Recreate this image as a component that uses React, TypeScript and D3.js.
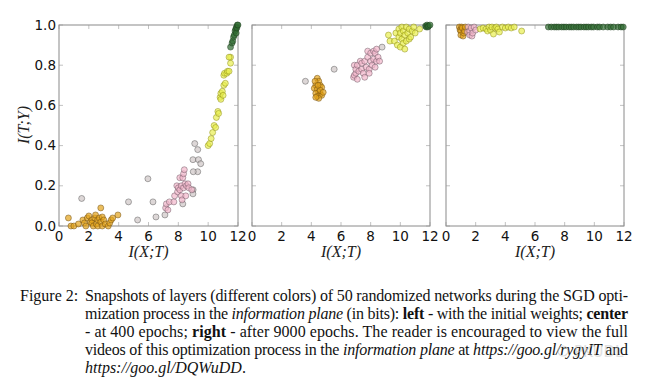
import * as d3 from "d3";

type P = [number, number];

// layer colours (input side -> output side)
const layerColors = ["#e3a21a", "#cfc6c6", "#f2b6cb", "#e8ee50", "#2f6b30"];
const layerStroke = ["#6b4a10", "#555", "#6a5560", "#8a8a10", "#1e3d1e"];

// left panel: initial weights
const leftOrange: P[] = [
  [0.63, 0.04], [0.8, 0.0], [1.0, 0.0], [1.3, 0.01], [1.6, 0.03], [1.7, 0.015], [1.8, 0.0],
  [1.9, 0.04], [2.0, 0.05], [2.1, 0.02], [2.2, 0.03], [2.2, 0.015], [2.3, 0.0], [2.4, 0.04],
  [2.45, 0.055], [2.5, 0.01], [2.6, 0.03], [2.6, 0.0], [2.7, 0.04], [2.8, 0.02], [2.8, 0.09],
  [2.9, 0.0], [2.9, 0.045], [3.0, 0.03], [3.1, 0.01], [3.3, 0.0], [3.4, 0.015], [3.5, 0.03],
  [3.6, 0.04], [3.95, 0.055],
];
const leftGray: P[] = [
  [1.52, 0.137], [4.66, 0.12], [5.27, 0.03], [5.96, 0.235], [6.3, 0.12], [6.5, 0.045],
  [7.1, 0.055], [9.1, 0.41], [9.3, 0.38], [8.98, 0.33], [9.35, 0.33], [9.5, 0.31],
  [9.3, 0.27], [9.0, 0.27], [8.99, 0.18], [8.98, 0.16], [8.3, 0.11],
];
const leftPink: P[] = [
  [7.15, 0.09], [7.2, 0.11], [7.3, 0.08], [7.4, 0.12], [7.7, 0.12], [7.75, 0.15], [7.9, 0.2],
  [7.95, 0.17], [8.0, 0.19], [8.1, 0.18], [8.1, 0.24], [8.2, 0.2], [8.2, 0.15], [8.25, 0.13],
  [8.3, 0.24], [8.35, 0.19], [8.35, 0.26], [8.4, 0.28], [8.45, 0.21], [8.5, 0.15],
  [8.55, 0.2], [8.65, 0.21], [8.7, 0.19], [8.9, 0.18],
];
const leftYellow: P[] = [
  [10.0, 0.4], [10.1, 0.41], [10.2, 0.435], [10.3, 0.465], [10.4, 0.5], [10.5, 0.49],
  [10.55, 0.54], [10.65, 0.57], [10.7, 0.56], [10.8, 0.64], [10.85, 0.63], [10.85, 0.66],
  [10.95, 0.67], [11.0, 0.65], [11.05, 0.7], [11.15, 0.71], [11.05, 0.75], [11.1, 0.76],
  [11.25, 0.76], [11.3, 0.77], [11.4, 0.77], [11.5, 0.81], [11.5, 0.84], [11.4, 0.84],
];
const leftGreen: P[] = [
  [11.5, 0.89], [11.6, 0.91], [11.65, 0.92], [11.7, 0.94], [11.75, 0.95], [11.8, 0.97],
  [11.85, 0.98], [11.88, 0.96], [11.9, 0.99], [11.92, 0.985], [11.95, 1.0], [12.0, 1.0],
];

// center panel: 400 epochs
const centerOrange: P[] = [
  [4.4, 0.735], [4.5, 0.72], [4.3, 0.7], [4.6, 0.7], [4.2, 0.685], [4.4, 0.68], [4.7, 0.69],
  [4.5, 0.665], [4.3, 0.66], [4.6, 0.655], [4.4, 0.645], [4.7, 0.65], [4.5, 0.635],
  [4.3, 0.64], [4.6, 0.675], [4.25, 0.72], [4.8, 0.665], [4.45, 0.7],
];
const centerGray: P[] = [[3.6, 0.72], [5.54, 0.78], [8.77, 0.89]];
const centerPink: P[] = [
  [6.85, 0.74], [6.9, 0.75], [6.9, 0.8], [7.0, 0.76], [7.0, 0.78], [7.1, 0.8], [7.1, 0.73],
  [7.2, 0.77], [7.3, 0.82], [7.4, 0.78], [7.4, 0.81], [7.5, 0.76], [7.6, 0.74], [7.6, 0.82],
  [7.7, 0.79], [7.8, 0.84], [7.8, 0.87], [7.9, 0.78], [7.9, 0.76], [8.0, 0.86], [8.0, 0.82],
  [8.1, 0.8], [8.2, 0.83], [8.2, 0.87], [8.3, 0.79], [8.3, 0.86], [8.4, 0.82], [8.4, 0.88],
  [8.5, 0.84], [8.6, 0.82],
];
const centerYellow: P[] = [
  [9.2, 0.95], [9.3, 0.92], [9.6, 0.92], [9.7, 0.96], [9.8, 0.9], [9.9, 0.94], [9.9, 0.98],
  [10.0, 0.96], [10.0, 0.89], [10.1, 0.93], [10.1, 0.99], [10.2, 0.97], [10.2, 0.91],
  [10.3, 0.95], [10.3, 0.88], [10.4, 0.92], [10.4, 0.99], [10.5, 0.96], [10.6, 0.98],
  [10.6, 0.93], [10.7, 0.94], [10.8, 0.97], [10.9, 0.99], [11.0, 0.96], [11.3, 0.98],
];
const centerGreen: P[] = [
  [11.7, 0.995], [11.75, 0.99], [11.8, 1.0], [11.85, 0.99], [11.9, 0.995], [12.0, 1.0],
];

// right panel: 9000 epochs
const rightOrange: P[] = [
  [0.9, 0.99], [0.95, 0.975], [1.0, 0.97], [1.0, 0.95], [1.05, 0.99], [1.1, 0.985],
  [1.15, 0.945], [1.2, 0.96], [1.25, 0.97], [1.3, 0.99],
];
const rightPink: P[] = [
  [1.45, 0.965], [1.5, 0.99], [1.6, 0.97], [1.6, 0.95], [1.7, 0.985], [1.75, 0.945],
  [1.8, 0.96], [1.9, 0.99], [2.0, 0.975],
];
const rightYellow: P[] = [
  [2.3, 0.98], [2.5, 0.985], [2.7, 0.98], [2.8, 0.97], [2.9, 0.99], [3.0, 0.975],
  [3.1, 0.99], [3.2, 0.955], [3.3, 0.985], [3.4, 0.99], [3.5, 0.98], [3.6, 0.965],
  [3.8, 0.99], [4.0, 0.985], [4.2, 0.99], [4.4, 0.985], [4.6, 0.99], [5.1, 0.97],
];
const rightGreen: P[] = [
  [6.9, 0.99], [7.1, 0.99], [7.3, 0.99], [7.45, 0.99], [7.6, 0.99], [7.8, 0.99], [7.95, 0.99],
  [8.1, 0.99], [8.3, 0.99], [8.45, 0.99], [8.6, 0.99], [8.8, 0.99], [8.95, 0.99], [9.1, 0.99],
  [9.3, 0.99], [9.45, 0.99], [9.6, 0.99], [9.8, 0.99], [9.95, 0.99], [10.2, 0.99],
  [10.35, 0.99], [10.6, 0.99], [10.9, 0.99], [11.1, 0.99], [11.3, 0.99], [11.6, 0.99],
  [11.8, 0.99], [11.95, 0.99],
];

const xTicks = [0, 2, 4, 6, 8, 10, 12];
const yTicks = [0, 0.2, 0.4, 0.6, 0.8, 1.0];

const panels: { left: number; right: number; layers: P[][]; colorIdx: number[] }[] = [
  { left: 59, right: 238, layers: [leftOrange, leftGray, leftPink, leftYellow, leftGreen], colorIdx: [0, 1, 2, 3, 4] },
  { left: 252, right: 430, layers: [centerOrange, centerGray, centerPink, centerYellow, centerGreen], colorIdx: [0, 1, 2, 3, 4] },
  { left: 446, right: 624, layers: [rightOrange, rightPink, rightYellow, rightGreen], colorIdx: [0, 2, 3, 4] },
];

const top = 25;
const bottom = 226;
const tickFont = "DejaVu Sans, sans-serif";
const serif = "Liberation Serif, DejaVu Serif, serif";

function Panel({ p, first }: { p: (typeof panels)[number]; first: boolean }) {
  const x = d3.scaleLinear().domain([0, 12]).range([p.left, p.right]);
  const y = d3.scaleLinear().domain([0, 1]).range([bottom, top]);
  return (
    <g>
      <rect x={p.left} y={top} width={p.right - p.left} height={bottom - top} fill="#fff" stroke="#8a8a8a" strokeWidth={1} />
      {xTicks.map((t) => (
        <g key={"x" + t}>
          <line x1={x(t)} x2={x(t)} y1={bottom} y2={bottom - 4} stroke="#999" strokeWidth={0.6} />
          <line x1={x(t)} x2={x(t)} y1={top} y2={top + 4} stroke="#999" strokeWidth={0.6} />
          <text x={x(t)} y={241} textAnchor="middle" style={{ fontFamily: tickFont }} fontSize={13.5} fill="#111">
            {t}
          </text>
        </g>
      ))}
      {yTicks.map((t) => (
        <g key={"y" + t}>
          <line x1={p.left} x2={p.left + 4} y1={y(t)} y2={y(t)} stroke="#999" strokeWidth={0.6} />
          <line x1={p.right} x2={p.right - 4} y1={y(t)} y2={y(t)} stroke="#999" strokeWidth={0.6} />
          {first && (
            <text x={p.left - 3} y={y(t) + 4.5} textAnchor="end" style={{ fontFamily: tickFont }} fontSize={13.5} fill="#111">
              {t.toFixed(1)}
            </text>
          )}
        </g>
      ))}
      {p.layers.map((pts, li) => (
        <g key={li}>
          {pts.map((d, i) => (
            <circle
              key={i}
              cx={x(d[0])}
              cy={y(d[1])}
              r={3}
              fill={layerColors[p.colorIdx[li]]}
              fillOpacity={0.7}
              stroke={layerStroke[p.colorIdx[li]]}
              strokeOpacity={0.8}
              strokeWidth={0.6}
            />
          ))}
        </g>
      ))}
      <text
        x={(p.left + p.right) / 2}
        y={257}
        textAnchor="middle"
        style={{ fontFamily: serif, fontStyle: "italic" }}
        fontSize={16}
        fill="#222"
      >
        I(X;T)
      </text>
    </g>
  );
}

export default function App() {
  const lineX = 85;
  const lineW = 543;
  const fs = 16;
  const it = { style: { fontStyle: "italic" as const } };
  const bd = { style: { fontWeight: "bold" as const } };
  return (
    <svg width={647} height={386} style={{ position: "absolute", left: 0, top: 0, background: "#fff" }}>
      <rect width={647} height={386} fill="#fff" />
      {panels.map((p, i) => (
        <Panel key={i} p={p} first={i === 0} />
      ))}
      <text
        transform="translate(29,125) rotate(-90)"
        textAnchor="middle"
        style={{ fontFamily: serif, fontStyle: "italic" }}
        fontSize={16}
        fill="#222"
      >
        I(T;Y)
      </text>
      <g style={{ fontFamily: serif }} fontSize={fs} fill="#111">
        <text x={20} y={301}>Figure 2:</text>
        <text x={lineX} y={301} textLength={lineW} lengthAdjust="spacing">
          Snapshots of layers (different colors) of 50 randomized networks during the SGD opti-
        </text>
        <text x={lineX} y={319} textLength={lineW} lengthAdjust="spacing">
          mization process in the <tspan {...it}>information plane</tspan> (in bits): <tspan {...bd}>left</tspan> - with
          the initial weights; <tspan {...bd}>center</tspan>
        </text>
        <text x={lineX} y={337} textLength={lineW} lengthAdjust="spacing">
          - at 400 epochs; <tspan {...bd}>right</tspan> - after 9000 epochs.  The reader is encouraged to view the full
        </text>
        <text x={lineX} y={355} textLength={lineW} lengthAdjust="spacing">
          videos of this optimization process in the <tspan {...it}>information plane</tspan> at{" "}
          <tspan {...it}>https://goo.gl/rygyIT</tspan> and
        </text>
        <text x={lineX} y={373}>
          <tspan {...it}>https://goo.gl/DQWuDD</tspan>.
        </text>
      </g>
      <g opacity={0.5}>
        <circle cx={563} cy={351} r={5} fill="none" stroke="#bbb" strokeWidth={1.2} />
        <text x={574} y={357} style={{ fontFamily: tickFont }} fontSize={15} fill="#c4c4c4">
          PKUDL
        </text>
      </g>
    </svg>
  );
}
